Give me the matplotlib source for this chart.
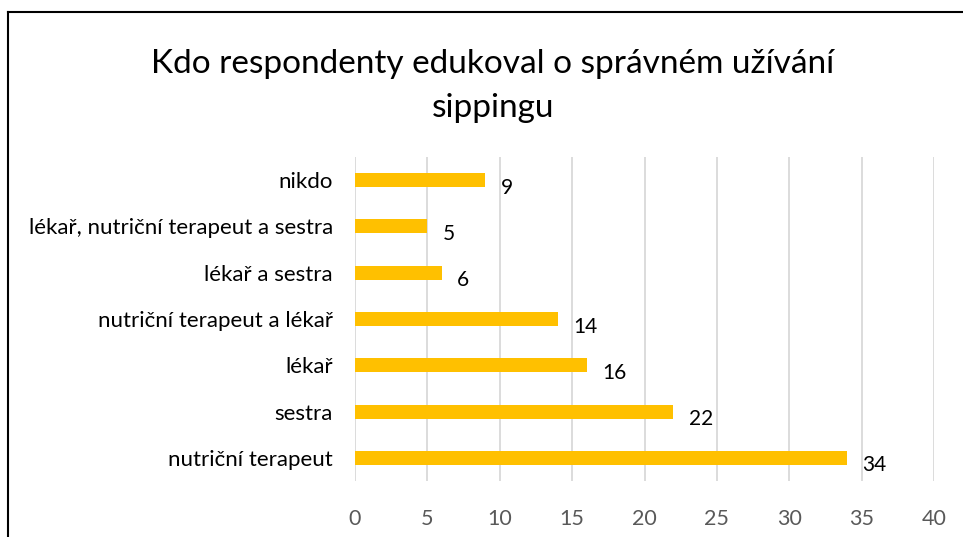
import matplotlib
matplotlib.use('Agg')
import matplotlib.pyplot as plt
from matplotlib.lines import Line2D

plt.rcParams['font.family'] = ['Lato', 'DejaVu Sans']

# data
categories = ["nutriční terapeut", "sestra", "lékař", "nutriční terapeut a lékař",
              "lékař a sestra", "lékař, nutriční terapeut a sestra", "nikdo"]
counts = [34, 22, 16, 14, 6, 5, 9]
x_ticks = [0, 5, 10, 15, 20, 25, 30, 35, 40]
title = "Kdo respondenty edukoval o správném užívání\nsippingu"

fig = plt.figure(figsize=(9.63, 5.37), dpi=100)
ax = fig.add_axes([0.3687, 0.1043, 0.6012, 0.6033])

pos = list(range(len(categories)))
ax.barh(pos, counts, height=0.3, color='#FFC000', zorder=3)

for p, v in zip(pos, counts):
    ax.annotate(str(v), (v, p), xytext=(11, -5.5), textcoords='offset points',
                ha='left', va='center', fontsize=15, color='black')

ax.set_xlim(0, 40)
ax.set_ylim(-0.5, len(categories) - 0.5)
ax.set_xticks(x_ticks)
ax.set_xticklabels([str(t) for t in x_ticks], fontsize=15.5, color='#595959')
ax.set_yticks(pos)
ax.set_yticklabels(categories, fontsize=16, color='black')
ax.tick_params(axis='both', length=0)
ax.tick_params(axis='x', pad=20)
ax.tick_params(axis='y', pad=16)
ax.grid(axis='x', color='#D9D9D9', linewidth=1.3, zorder=0)
for s in ax.spines.values():
    s.set_visible(False)

fig.text(0.512, 0.840, title, ha='center', va='center', fontsize=24,
         linespacing=1.55, color='black')

# chart frame (only left and top edges visible in the crop)
fig.add_artist(Line2D([8 / 963, 8 / 963], [0, 1 - 12 / 537], transform=fig.transFigure,
                      color='black', linewidth=1.5))
fig.add_artist(Line2D([8 / 963, 1], [1 - 12 / 537, 1 - 12 / 537], transform=fig.transFigure,
                      color='black', linewidth=1.5))

fig.savefig('out.png', dpi=100)
plt.close(fig)
